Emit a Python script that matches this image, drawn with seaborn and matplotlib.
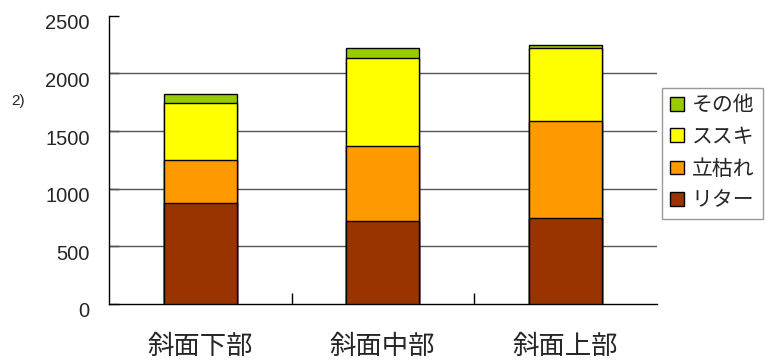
import numpy as np
import seaborn as sns
import matplotlib.pyplot as plt
from matplotlib.patches import Patch
from matplotlib.transforms import ScaledTranslation

# data
categories = ['斜面下部', '斜面中部', '斜面上部']
litter = [876, 721, 744]        # リター
standing = [376, 649, 845]      # 立枯れ
susuki = [489, 767, 631]        # ススキ
other = [78, 80, 29]            # その他
layer_names = ['リター', '立枯れ', 'ススキ', 'その他']
layer_colors = ['#993300', '#FF9900', '#FFFF00', '#99CC00']
yticks = [0, 500, 1000, 1500, 2000, 2500]

sns.set_theme(style='white')
plt.rcParams['font.family'] = ['Liberation Sans', 'Noto Sans CJK JP', 'DejaVu Sans']

fig = plt.figure(figsize=(7.65, 3.6), dpi=100)
ax = fig.add_axes([0.1425, 0.1556, 0.7157, 0.8004])

# stacked bars: draw cumulative totals, tallest first
layers = np.array([litter, standing, susuki, other])
cum = layers.cumsum(axis=0)
for i in range(len(layers) - 1, -1, -1):
    sns.barplot(x=categories, y=cum[i], color=layer_colors[i], saturation=1,
                edgecolor='black', linewidth=1, width=0.4, ax=ax, zorder=3)

ax.set_xlim(-0.5, 2.5)
ax.set_ylim(0, 2500)
ax.set_yticks(yticks)
for v in yticks[1:-1]:
    ax.axhline(v, color='#555555', linewidth=1, zorder=1)

for side in ['top', 'right']:
    ax.spines[side].set_visible(False)
for side in ['left', 'bottom']:
    ax.spines[side].set_color('black')
    ax.spines[side].set_linewidth(1)

ax.tick_params(axis='y', direction='in', length=7, width=1, color='black',
               labelsize=14.5, pad=14, left=True)
ax.set_xticks([0.5, 1.5], minor=True)
ax.tick_params(axis='x', which='minor', direction='in', length=8, width=1,
               color='black', bottom=True)
ax.tick_params(axis='x', which='major', length=0, labelsize=19, pad=22)
for lab in ax.get_yticklabels():
    lab.set_transform(lab.get_transform() + ScaledTranslation(0, -0.06, fig.dpi_scale_trans))
ax.set_xlabel('')
ax.set_ylabel('')

fig.text(0.024, 0.72, '2)', fontsize=11, ha='center', va='center')

handles = [Patch(facecolor=layer_colors[i], edgecolor='black', linewidth=1,
                 label=layer_names[i]) for i in range(len(layers) - 1, -1, -1)]
leg = fig.legend(handles=handles, loc='upper left', bbox_to_anchor=(0.865, 0.756),
                 fontsize=15, frameon=True, fancybox=False, edgecolor='#808080',
                 handlelength=0.65, handleheight=0.65, handletextpad=0.4,
                 labelspacing=0.6, borderpad=0.4, borderaxespad=0)
leg.get_frame().set_linewidth(1)

fig.savefig('out.png', dpi=100)
